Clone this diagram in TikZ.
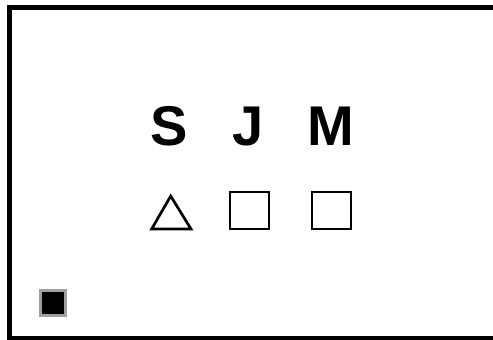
\documentclass[tikz,border=0pt]{standalone}
\usepackage{fontspec}
\setmainfont{Liberation Sans}
\begin{document}
\begin{tikzpicture}[x=1pt,y=-1pt,
  lbl/.style={font=\fontsize{56}{56}\selectfont\bfseries, inner sep=0pt, anchor=base},
  sym/.style={draw=black, line width=2.7pt, fill=white}]
\useasboundingbox (0,0) rectangle (493,340);
\fill[white] (0,0) rectangle (493,340);
\begin{scope}
\clip (0,0) rectangle (493,340);
\draw[line width=4.5pt] (9.5,7.5) rectangle (520,338);
\end{scope}
\node[lbl] (s) at (169,145) {S};
\node[lbl] (j) at (248,145) {J};
\node[lbl] (m) at (331,145) {M};
\draw[sym, line join=miter] (170.7,196) -- (191,229) -- (151.7,229) -- cycle;
\draw[sym] (230,192) rectangle (269,229);
\draw[sym] (312,192) rectangle (351,229);
\draw[draw=gray!75, line width=2.5pt, fill=black] (40.5,290.5) rectangle (65.5,315.5);
\end{tikzpicture}
\end{document}
